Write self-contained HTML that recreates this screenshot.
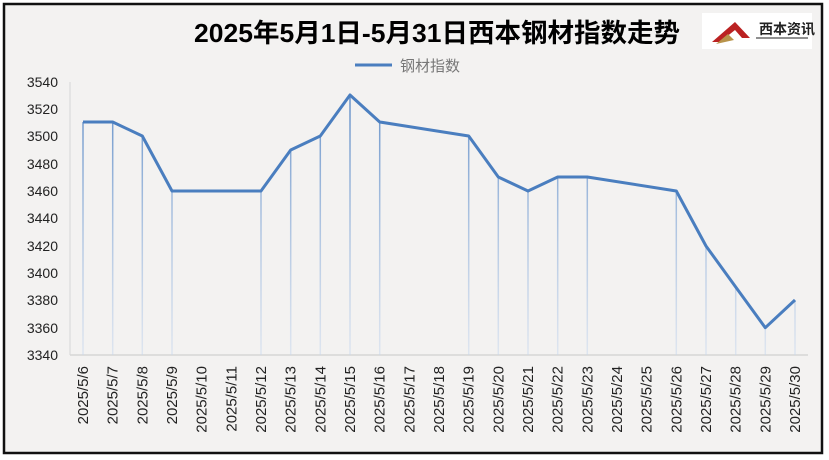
<!DOCTYPE html>
<html><head><meta charset="utf-8"><style>
html,body{margin:0;padding:0;background:#fff}
svg{display:block}
text{font-family:"Liberation Sans","Noto Sans CJK SC",sans-serif}
</style></head><body>
<svg width="829" height="460" viewBox="0 0 829 460" xmlns="http://www.w3.org/2000/svg">
<defs>
<linearGradient id="dg" gradientUnits="userSpaceOnUse" x1="0" y1="90" x2="0" y2="355"><stop offset="0" stop-color="#5b8ac6" stop-opacity="0.95"/><stop offset="1" stop-color="#c8d8ee" stop-opacity="0.5"/></linearGradient>
</defs>
<rect x="0" y="0" width="829" height="460" fill="#fff"/>
<rect x="4" y="4" width="818" height="449" fill="#f3f2f1" stroke="#111" stroke-width="2.5"/>
<text x="437" y="42" text-anchor="middle" font-size="26" font-weight="bold" fill="#000" textLength="486" lengthAdjust="spacingAndGlyphs">2025年5月1日-5月31日西本钢材指数走势</text>
<rect x="702" y="13" width="110" height="36" fill="#fff"/>
<polygon points="712,42 735,22 750,38 742,38 735,30 720,42" fill="#b22"/>
<polygon points="716,44 728,34 734,40" fill="#b8934a"/>
<text x="759" y="34" font-size="14" font-weight="bold" fill="#222">西本资讯</text>
<line x1="756" y1="38" x2="808" y2="38" stroke="#222" stroke-width="1"/>
<line x1="355" y1="65" x2="392" y2="65" stroke="#4a7ebf" stroke-width="3"/>
<text x="400" y="71" font-size="15" fill="#777">钢材指数</text>
<g font-size="14" fill="#222" text-anchor="end">
<text x="58" y="87">3540</text><text x="58" y="114">3520</text><text x="58" y="141">3500</text><text x="58" y="169">3480</text><text x="58" y="196">3460</text><text x="58" y="223">3440</text><text x="58" y="251">3420</text><text x="58" y="278">3400</text><text x="58" y="305">3380</text><text x="58" y="333">3360</text><text x="58" y="360">3340</text>
</g>
<line x1="70" y1="82" x2="70" y2="355" stroke="#d6d6d6" stroke-width="1"/>
<line x1="70" y1="355" x2="808" y2="355" stroke="#d6d6d6" stroke-width="1.5"/>
<g stroke="url(#dg)" stroke-width="1.5">
<line x1="83" y1="122" x2="83" y2="355"/><line x1="112.7" y1="122" x2="112.7" y2="355"/><line x1="142.3" y1="136" x2="142.3" y2="355"/><line x1="172" y1="191" x2="172" y2="355"/><line x1="261" y1="191" x2="261" y2="355"/><line x1="290.7" y1="150" x2="290.7" y2="355"/><line x1="320.3" y1="136" x2="320.3" y2="355"/><line x1="350" y1="95" x2="350" y2="355"/><line x1="379.7" y1="122" x2="379.7" y2="355"/><line x1="468.7" y1="136" x2="468.7" y2="355"/><line x1="498.3" y1="177" x2="498.3" y2="355"/><line x1="528" y1="191" x2="528" y2="355"/><line x1="557.7" y1="177" x2="557.7" y2="355"/><line x1="587.3" y1="177" x2="587.3" y2="355"/><line x1="676.3" y1="191" x2="676.3" y2="355"/><line x1="706" y1="246" x2="706" y2="355"/><line x1="735.7" y1="287" x2="735.7" y2="355"/><line x1="765.3" y1="327.7" x2="765.3" y2="355"/><line x1="795" y1="300" x2="795" y2="355"/>
</g>
<polyline fill="none" stroke="#4a7ebf" stroke-width="3" stroke-linejoin="round" points="83,122 112.7,122 142.3,136 172,191 261,191 290.7,150 320.3,136 350,95 379.7,122 468.7,136 498.3,177 528,191 557.7,177 587.3,177 676.3,191 706,246 735.7,287 765.3,327.7 795,300"/>
<g font-size="15" fill="#222" text-anchor="end">
<text transform="translate(88,366) rotate(-90)">2025/5/6</text><text transform="translate(117.7,366) rotate(-90)">2025/5/7</text><text transform="translate(147.3,366) rotate(-90)">2025/5/8</text><text transform="translate(177,366) rotate(-90)">2025/5/9</text><text transform="translate(206.7,366) rotate(-90)">2025/5/10</text><text transform="translate(236.3,366) rotate(-90)">2025/5/11</text><text transform="translate(266,366) rotate(-90)">2025/5/12</text><text transform="translate(295.7,366) rotate(-90)">2025/5/13</text><text transform="translate(325.3,366) rotate(-90)">2025/5/14</text><text transform="translate(355,366) rotate(-90)">2025/5/15</text><text transform="translate(384.7,366) rotate(-90)">2025/5/16</text><text transform="translate(414.3,366) rotate(-90)">2025/5/17</text><text transform="translate(444,366) rotate(-90)">2025/5/18</text><text transform="translate(473.7,366) rotate(-90)">2025/5/19</text><text transform="translate(503.3,366) rotate(-90)">2025/5/20</text><text transform="translate(533,366) rotate(-90)">2025/5/21</text><text transform="translate(562.7,366) rotate(-90)">2025/5/22</text><text transform="translate(592.3,366) rotate(-90)">2025/5/23</text><text transform="translate(622,366) rotate(-90)">2025/5/24</text><text transform="translate(651.7,366) rotate(-90)">2025/5/25</text><text transform="translate(681.3,366) rotate(-90)">2025/5/26</text><text transform="translate(711,366) rotate(-90)">2025/5/27</text><text transform="translate(740.7,366) rotate(-90)">2025/5/28</text><text transform="translate(770.3,366) rotate(-90)">2025/5/29</text><text transform="translate(800,366) rotate(-90)">2025/5/30</text>
</g>
</svg>
</body></html>
